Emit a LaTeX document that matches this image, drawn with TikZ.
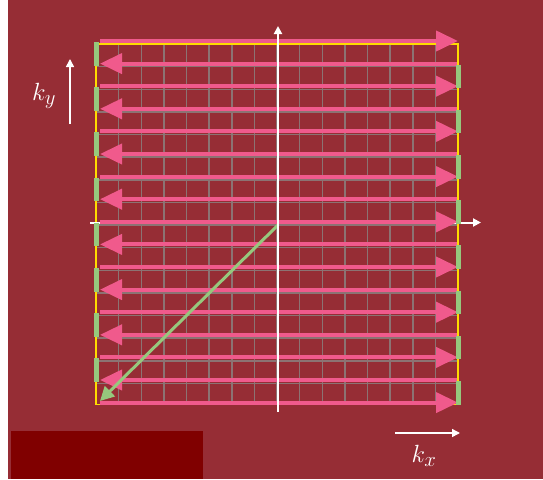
\documentclass[tikz,border=0pt]{standalone}
\usepackage{tikz}
\usetikzlibrary{arrows.meta, positioning}
\definecolor{bgred}{RGB}{150,45,53}
\definecolor{darkbox}{RGB}{128,0,0}
\definecolor{scanpink}{RGB}{240,90,140}
\definecolor{blipgreen}{RGB}{150,200,125}
\definecolor{gridgray}{RGB}{140,115,115}
\definecolor{edgeyellow}{RGB}{255,220,0}
\tikzset{
    readout/.style={draw=scanpink, line width=4pt, -{Triangle[length=22pt, width=20pt]}},
    blip/.style={draw=blipgreen, line width=5pt},
    axis/.style={draw=white, line width=2pt, -{Triangle[length=8pt, width=8pt]}},
    klabel/.style={text=white, font=\fontsize{30}{32}\selectfont}
}

\begin{document}
\begin{tikzpicture}[x=1pt, y=-1pt]
    \useasboundingbox (0,0) rectangle (543,479);
    \fill[white] (0,0) rectangle (8,479);
    \fill[bgred] (8,0) rectangle (543,479);
    \fill[darkbox] (11,431) rectangle (203,479);

    % k-space grid
    \foreach \k in {1,...,15} {
        \draw[gridgray, line width=1.5pt] ({96+22.625*\k},44) -- ({96+22.625*\k},404);
        \draw[gridgray, line width=1.5pt] (96,{44+22.625*\k}) -- (458,{44+22.625*\k});
    }
    \draw[edgeyellow, line width=1.5pt] (96,44) rectangle (458,404.5);

    % kx axis (under the middle readout line)
    \coordinate (xstart) at (90,222.5);
    \coordinate (xend) at (481,222.5);
    \draw[axis] (xstart) -- (xend);

    % readout lines, alternating direction
    \foreach \i in {0,2,...,16} {
        \draw[readout] (100,{41+22.6*\i}) -- (458,{41+22.6*\i});
    }
    \foreach \i in {1,3,...,15} {
        \draw[readout] (457,{41+22.6*\i}) -- (100,{41+22.6*\i});
    }

    % phase encode blips
    \foreach \i in {0,2,...,14} {
        \draw[blip] (96,{42+22.6*\i}) -- (96,{43+22.6*(\i+1)});
    }
    \foreach \i in {1,3,...,15} {
        \draw[blip] (458,{42+22.6*\i}) -- (458,{43+22.6*(\i+1)});
    }

    % move to the corner of k-space
    \coordinate (center) at (278,225);
    \coordinate (corner) at (100,401);
    \draw[blipgreen, line width=3pt, -{Triangle[length=14pt, width=14pt]}] (center) -- (corner);

    % ky axis
    \coordinate (ybottom) at (278,412);
    \coordinate (ytop) at (278,26);
    \draw[axis] (ybottom) -- (ytop);

    % labels
    \node[klabel] (ky) at (44,96) {$k_y$};
    \coordinate (kyfoot) at (70,124);
    \coordinate (kyhead) at (70,59);
    \draw[axis, line width=1.5pt] (kyfoot) -- (kyhead);

    \node[klabel] (kx) at (424,456) {$k_x$};
    \coordinate (kxfoot) at (395,433);
    \coordinate (kxhead) at (460,433);
    \draw[axis, line width=1.5pt] (kxfoot) -- (kxhead);
\end{tikzpicture}
\end{document}
